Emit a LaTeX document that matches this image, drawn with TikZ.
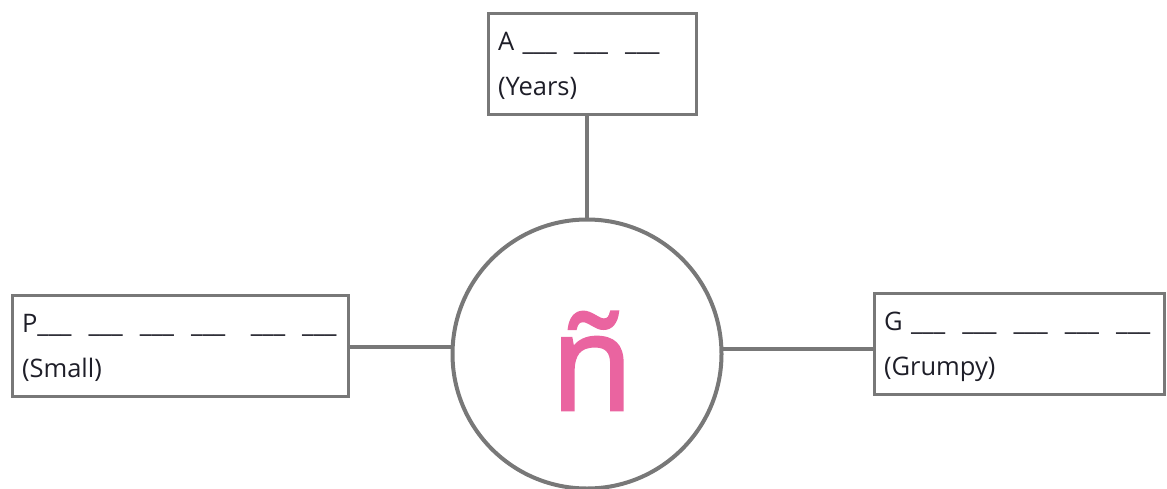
\documentclass[tikz,border=0pt]{standalone}
\usepackage{fontspec}
\setmainfont{Open Sans}
\newfontfamily\letterfont[FakeBold=2]{Open Sans}
\usepackage{tikz}
\usetikzlibrary{positioning, calc}
\definecolor{lineGray}{RGB}{120, 120, 120}
\definecolor{letterPink}{RGB}{234, 100, 160}
\definecolor{textDark}{RGB}{30, 30, 40}

\begin{document}
\begin{tikzpicture}[x=1pt, y=-1pt,
    wordbox/.style={rectangle, draw=lineGray, line width=3pt, anchor=north west, align=left,
        inner xsep=10pt, inner ysep=0pt, text height=37pt, text depth=64pt,
        font=\fontsize{25.5}{45}\selectfont, text=textDark},
    link/.style={draw=lineGray, line width=4pt}]
    \useasboundingbox (0,0) rectangle (1167,488);

    % Letter in the middle
    \node[circle, draw=lineGray, line width=4pt, minimum size=269pt, inner sep=0pt,
        text height=112pt, text depth=0pt, font=\letterfont\fontsize{134}{134}\selectfont,
        text=letterPink] (ring) at (587,354) {\hspace*{10pt}ñ};

    % Word boxes
    \node[wordbox, text width=188pt] (years) at (486.5,11.5)
        {\mbox{A \_\_\_ \ \_\_\_ \ \_\_\_}\\(Years)};
    \node[wordbox, text width=316pt] (small) at (10.5,293.5)
        {\mbox{P\_\_\_ \ \_\_\_ \ \_\_\_ \ \_\_\_ \ \ \_\_\_ \ \_\_\_}\\(Small)};
    \node[wordbox, text width=270pt] (grumpy) at (872.5,291.5)
        {\mbox{G \_\_\_ \ \_\_\_ \ \_\_\_ \ \_\_\_ \ \_\_\_}\\(Grumpy)};

    % Links to the circle
    \draw[link] (ring.north) -- (ring.north |- years.south);
    \draw[link] (ring.177) -- (ring.177 -| small.east);
    \draw[link] (ring.2) -- (ring.2 -| grumpy.west);
\end{tikzpicture}
\end{document}
